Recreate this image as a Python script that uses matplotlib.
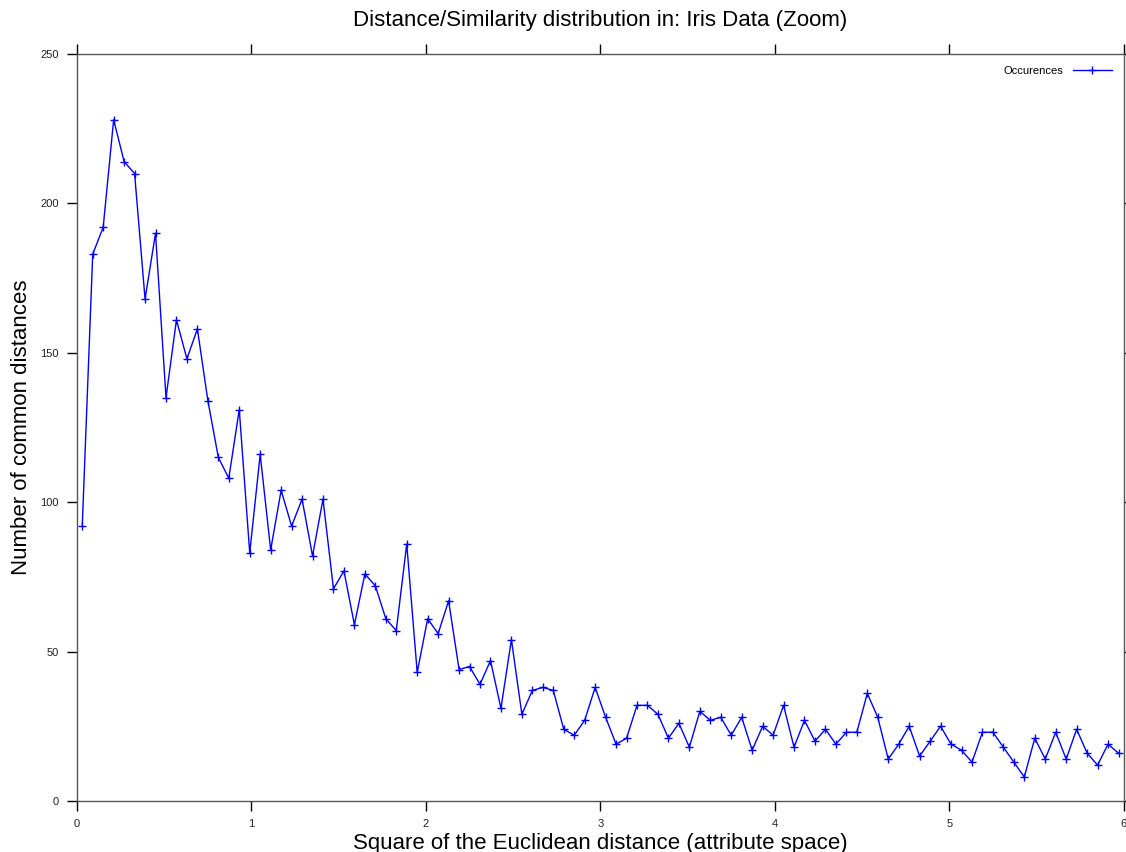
import numpy as np
import matplotlib.pyplot as plt

plt.rcParams['font.family'] = ['Liberation Sans', 'DejaVu Sans']

# bins of width 0.06, value plotted at the bin centre
bin_width = 0.06
bin_centres = np.arange(100) * bin_width + bin_width / 2

occurences = [
    92, 183, 192, 228, 214, 210, 168, 190, 135, 161,
    148, 158, 134, 115, 108, 131, 83, 116, 84, 104,
    92, 101, 82, 101, 71, 77, 59, 76, 72, 61,
    57, 86, 43, 61, 56, 67, 44, 45, 39, 47,
    31, 54, 29, 37, 38, 37, 24, 22, 27, 38,
    28, 19, 21, 32, 32, 29, 21, 26, 18, 30,
    27, 28, 22, 28, 17, 25, 22, 32, 18, 27,
    20, 24, 19, 23, 23, 36, 28, 14, 19, 25,
    15, 20, 25, 19, 17, 13, 23, 23, 18, 13,
    8, 21, 14, 23, 14, 24, 16, 12, 19, 16,
]

fig = plt.figure(figsize=(11.26, 8.52), dpi=100)
ax = fig.add_axes([0.0684, 0.0599, 0.9296, 0.8767])

ax.plot(bin_centres, occurences, color="#0000ff", linewidth=1.0,
        marker="+", markersize=6, markeredgewidth=1.0, label="Occurences")

ax.set_xlim(0, 6)
ax.set_ylim(0, 250)
ax.set_xticks(range(0, 7))
ax.set_yticks(range(0, 251, 50))

ax.tick_params(direction="out", length=7, width=1, labelsize=8,
               top=True, right=True, labelcolor="#222222", pad=6)
for side in ax.spines.values():
    side.set_color("#555555")
    side.set_linewidth(1.0)

ax.set_title("Distance/Similarity distribution in: Iris Data (Zoom)",
             fontsize=16, pad=20)
ax.set_xlabel("Square of the Euclidean distance (attribute space)",
              fontsize=16, labelpad=3)
ax.set_ylabel("Number of common distances", fontsize=16, labelpad=6)

ax.legend(loc="upper right", frameon=False, fontsize=8, markerfirst=False,
          handlelength=3.5, borderaxespad=0.7)

fig.savefig("out.png", dpi=100)
